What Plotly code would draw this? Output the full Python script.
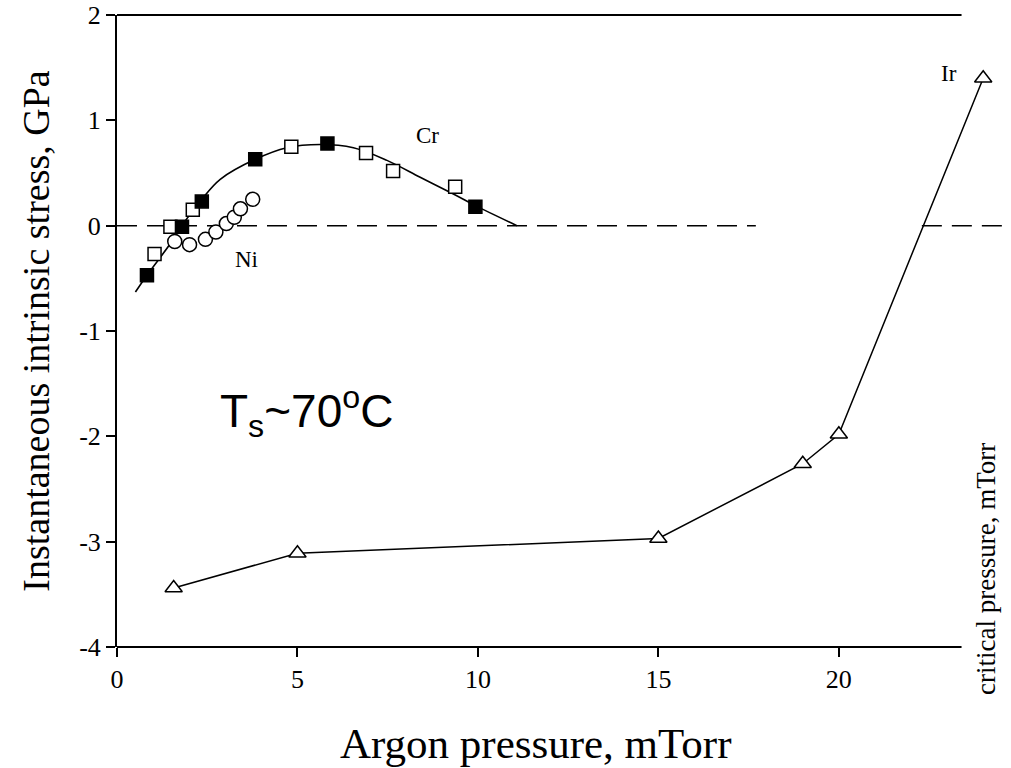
import plotly.graph_objects as go

# ---------------- data ----------------
cr_filled_x = [0.83, 1.80, 2.35, 3.83, 5.83, 9.93]
cr_filled_y = [-0.47, -0.01, 0.23, 0.63, 0.78, 0.18]

cr_open_x = [1.04, 1.48, 2.10, 4.83, 6.90, 7.65, 9.37]
cr_open_y = [-0.27, -0.01, 0.15, 0.75, 0.69, 0.52, 0.37]

cr_fit_x = [0.51, 0.83, 1.48, 1.80, 2.35, 2.86, 3.83, 4.71, 5.63, 6.55, 7.48, 8.40, 9.32, 9.93, 11.08]
cr_fit_y = [-0.63, -0.47, -0.17, 0.0, 0.25, 0.44, 0.63, 0.74, 0.77, 0.74, 0.62, 0.46, 0.30, 0.19, 0.0]

ni_x = [1.60, 2.01, 2.45, 2.74, 3.03, 3.25, 3.42, 3.76]
ni_y = [-0.15, -0.18, -0.13, -0.06, 0.02, 0.08, 0.16, 0.25]

ir_x = [1.57, 5.0, 15.0, 19.0, 20.0, 24.0]
ir_y = [-3.44, -3.11, -2.97, -2.26, -1.98, 1.40]

zero_seg1_x = [0.0, 17.7]
zero_seg2_x = [22.3, 24.8]

x_ticks = [0, 5, 10, 15, 20]
x_ticktext = ["0", "5", "10", "15", "20"]
y_ticks = [-4, -3, -2, -1, 0, 1, 2]
y_ticktext = ["-4", "-3", "-2", "-1", "0", "1", "2"]

AXIS_END = 23.4          # where the drawn x-axis line stops
X_MAX = 24.77            # plotting range (data extends past the axis line)

SERIF = "Liberation Serif, Times New Roman, serif"

W, H = 1011, 768
ML, MR, MT, MB = 117, 0, 15, 768 - 647
PW, PH = W - ML - MR, H - MT - MB


def px_to_paper_x(px):
    return (px - ML) / PW


def px_to_paper_y(py):
    return (H - MB - py) / PH


fig = go.Figure()

dash = "20px,10px"
for seg in (zero_seg1_x, zero_seg2_x):
    fig.add_trace(go.Scatter(x=seg, y=[0, 0], mode="lines",
                             line=dict(color="black", width=1.5, dash=dash)))

fig.add_trace(go.Scatter(x=cr_fit_x, y=cr_fit_y, mode="lines",
                         line=dict(color="black", width=1.6, shape="spline", smoothing=1.0)))

fig.add_trace(go.Scatter(x=ni_x, y=ni_y, mode="markers",
                         marker=dict(symbol="circle", size=14, color="white",
                                     line=dict(color="black", width=1.5))))

fig.add_trace(go.Scatter(x=cr_open_x, y=cr_open_y, mode="markers",
                         marker=dict(symbol="square", size=13, color="white",
                                     line=dict(color="black", width=1.5))))
fig.add_trace(go.Scatter(x=cr_filled_x, y=cr_filled_y, mode="markers",
                         marker=dict(symbol="square", size=13, color="black",
                                     line=dict(color="black", width=1.5))))

fig.add_trace(go.Scatter(x=ir_x, y=ir_y, mode="lines+markers", cliponaxis=False,
                         line=dict(color="black", width=1.5),
                         marker=dict(symbol="triangle-up", size=15, color="white",
                                     line=dict(color="black", width=1.5))))

# bottom and top frame lines (stop short of the plotting range)
for yy in (0, 1):
    fig.add_shape(type="line", xref="x", yref="paper", x0=0, x1=AXIS_END, y0=yy, y1=yy,
                  line=dict(color="black", width=2))

fig.add_annotation(x=8.59, y=0.86, text="Cr", showarrow=False,
                   font=dict(family=SERIF, size=23, color="black"))
fig.add_annotation(x=3.58, y=-0.32, text="Ni", showarrow=False,
                   font=dict(family=SERIF, size=23, color="black"))
fig.add_annotation(x=23.06, y=1.44, text="Ir", showarrow=False,
                   font=dict(family=SERIF, size=23, color="black"))
fig.add_annotation(x=2.8, y=-1.76, xanchor="left", text="T<sub>s</sub>~70<sup>o</sup>C",
                   showarrow=False,
                   font=dict(family="Liberation Sans, Arial, sans-serif", size=46, color="black"))
fig.add_annotation(xref="paper", yref="paper", x=px_to_paper_x(986), y=px_to_paper_y(569),
                   xanchor="center", yanchor="middle",
                   text="critical pressure, mTorr", textangle=-90, showarrow=False,
                   font=dict(family=SERIF, size=27, color="black"))
fig.add_annotation(xref="paper", yref="paper", x=px_to_paper_x(535), y=px_to_paper_y(743),
                   xanchor="center", yanchor="middle",
                   text="Argon pressure, mTorr", showarrow=False,
                   font=dict(family=SERIF, size=43, color="black"))

fig.update_layout(
    width=W, height=H,
    margin=dict(l=ML, r=MR, t=MT, b=MB, autoexpand=False),
    paper_bgcolor="white", plot_bgcolor="white",
    showlegend=False,
    hovermode=False,
    font=dict(family=SERIF, color="black"),
    xaxis=dict(range=[0, X_MAX], tickvals=x_ticks, ticktext=x_ticktext,
               ticks="outside", ticklen=9, tickwidth=1.5, tickcolor="black",
               showline=False, showgrid=False, zeroline=False, automargin=False,
               ticklabeloverflow="allow",
               tickfont=dict(family=SERIF, size=26)),
    yaxis=dict(range=[-4, 2], tickvals=y_ticks, ticktext=y_ticktext,
               ticks="outside", ticklen=9, tickwidth=1.5, tickcolor="black",
               showline=True, linecolor="black", linewidth=2,
               showgrid=False, zeroline=False, automargin=False,
               ticklabeloverflow="allow",
               tickfont=dict(family=SERIF, size=26),
               title=dict(text="Instantaneous intrinsic stress, GPa",
                          font=dict(family=SERIF, size=38), standoff=18)),
)

# remove the browser's default 8px page margin so the figure fills the window exactly
fig.write_html("out.html",
               config={"displayModeBar": False},
               post_script="document.body.style.margin='0';document.body.style.overflow='hidden';")
